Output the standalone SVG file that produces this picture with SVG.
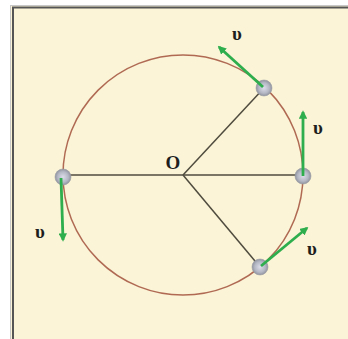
<svg xmlns="http://www.w3.org/2000/svg" width="348" height="339" viewBox="0 0 348 339">
<defs>
<radialGradient id="ballGrad" cx="0.5" cy="0.5" r="0.55">
<stop offset="0" stop-color="#dcdde9"/>
<stop offset="0.6" stop-color="#b4b7c4"/>
<stop offset="1" stop-color="#868a94"/>
</radialGradient>
<marker id="ah" viewBox="0 0 10 10" refX="8" refY="5" markerWidth="3" markerHeight="3" orient="auto" markerUnits="strokeWidth">
<path d="M0,0 L10,5 L0,10 Z" fill="#2fae4e"/>
</marker>
<style>
.ball{fill:url(#ballGrad);stroke:#9a9ca4;stroke-width:0.6}
.rad{stroke:#4f4b3e;stroke-width:1.5;fill:none}
.vel{stroke:#2fae4e;stroke-width:2.8;fill:none;marker-end:url(#ah)}
.lbl{font-family:"Liberation Serif","DejaVu Serif",serif;font-weight:bold;font-size:19px;fill:#1e1e1e}
</style>
</defs>
<rect x="0" y="0" width="348" height="339" fill="#ffffff"/>
<rect x="11" y="6" width="337" height="333" fill="#fbf4d6"/>
<line x1="11" y1="5.5" x2="348" y2="5.5" stroke="#c8c8c8" stroke-width="1"/>
<line x1="10.5" y1="5" x2="10.5" y2="339" stroke="#c8c8c8" stroke-width="1"/>
<line x1="12" y1="7.5" x2="348" y2="7.5" stroke="#555555" stroke-width="2"/>
<line x1="13" y1="7" x2="13" y2="339" stroke="#555555" stroke-width="2"/>
<g id="circle">
<circle cx="183" cy="175" r="120" fill="none" stroke="#b06a54" stroke-width="1.5"/>
</g>
<g id="connectors">
<line class="rad" x1="63" y1="175" x2="303" y2="175"/>
<line class="rad" x1="183" y1="175" x2="264" y2="88"/>
<line class="rad" x1="183" y1="175" x2="260" y2="267"/>
</g>
<g id="center-label">
<text class="lbl" x="173" y="169" text-anchor="middle" font-size="18">O</text>
</g>
<g id="ball-top-right">
<circle class="ball" cx="264" cy="88" r="8"/>
<line class="vel" x1="263" y1="87" x2="219" y2="47"/>
<text class="lbl" x="237" y="40" text-anchor="middle">υ</text>
</g>
<g id="ball-right">
<circle class="ball" cx="303" cy="176" r="8"/>
<line class="vel" x1="303" y1="176" x2="303" y2="112"/>
<text class="lbl" x="318" y="134" text-anchor="middle">υ</text>
</g>
<g id="ball-left">
<circle class="ball" cx="63" cy="177" r="8"/>
<line class="vel" x1="61" y1="178" x2="63" y2="240"/>
<text class="lbl" x="40" y="238" text-anchor="middle">υ</text>
</g>
<g id="ball-bottom-right">
<circle class="ball" cx="260" cy="267" r="8"/>
<line class="vel" x1="261" y1="266" x2="307" y2="228"/>
<text class="lbl" x="312" y="255" text-anchor="middle">υ</text>
</g>
</svg>
